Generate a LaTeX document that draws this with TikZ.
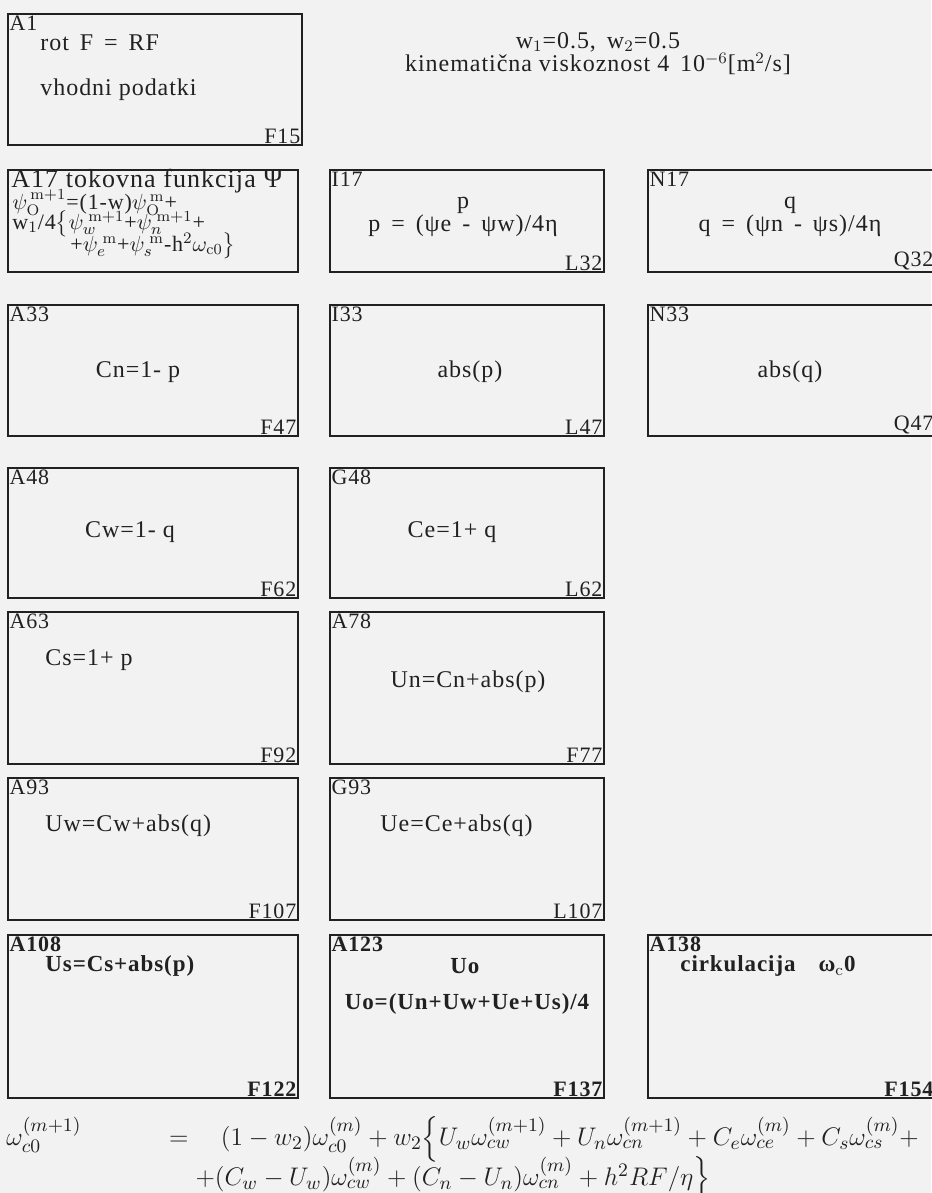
\documentclass[tikz,border=0pt]{standalone}
\usepackage{amsmath}
\usepackage{fontspec}
\newfontfamily\tabfont[LetterSpace=4]{Liberation Serif}
\usetikzlibrary{fit}

\definecolor{papir}{gray}{0.95}
\definecolor{crnilo}{gray}{0.13}

\begin{document}
\begin{tikzpicture}[x=0.5pt, y=-0.5pt, crnilo,
    blok/.style={draw, line width=1.2pt, inner sep=0pt, fit={#1}},
    oznaka/.style={font=\tabfont\fontsize{11}{13}\selectfont, inner sep=1.2pt},
    vsebina/.style={font=\tabfont\fontsize{12}{14}\selectfont, inner sep=0pt},
    krepko/.style={font=\tabfont\bfseries\fontsize{11.5}{14}\selectfont, inner sep=0pt},
    enacba/.style={font=\fontsize{13.2}{16}\selectfont, inner sep=0pt, scale=1.06, transform shape}]
  \fill[papir] (0,0) rectangle (931,1193);
  \useasboundingbox (0,0) rectangle (931,1193);

  \foreach \ime/\xa/\ya/\xb/\yb/\zg/\sp in {
      A1/8/14/302/145/A1/F15,
      I17/330/170/604/272/I17/L32,
      N17/648/170/935/272/N17/Q32,
      A33/8/305/298/436/A33/F47,
      I33/330/305/604/436/I33/L47,
      N33/648/305/935/436/N33/Q47,
      A48/8/468/298/598/A48/F62,
      G48/330/468/604/598/G48/L62,
      A63/8/612/298/764/A63/F92,
      A78/330/612/604/764/A78/F77,
      A93/8/778/298/920/A93/F107,
      G93/330/778/604/920/G93/L107,
      A108/8/935/298/1098/{\bfseries A108}/{\bfseries F122},
      A123/330/935/604/1098/{\bfseries A123}/{\bfseries F137},
      A138/648/935/935/1098/{\bfseries A138}/{\bfseries F154}}
  {
    \node[blok={(\xa,\ya) (\xb,\yb)}] (\ime) {};
    \node[oznaka, anchor=north west] (\ime zg) at (\ime.north west) {\zg};
    \node[oznaka, anchor=south east] (\ime sp) at (\ime.south east) {\sp};
  }
  \node[blok={(8,170) (298,272)}] (A17) {};

  \node[vsebina, anchor=west] (rot) at (40,43) {rot\, F\, =\, RF};
  \node[vsebina, anchor=west] (vhod) at (40,90) {vhodni podatki};
  \node[vsebina] (utez) at (598,42) {w$_1$=0.5,\, w$_2$=0.5};
  \node[vsebina] (visk) at (598,64) {kinematična viskoznost 4\, 10$^{-6}$[m$^2$/s]};

  \node[vsebina, anchor=west, font=\tabfont\fontsize{13}{15}\selectfont] (A17a) at (11,181) {A17 tokovna funkcija Ψ};
  \node[vsebina, anchor=west, font=\tabfont\fontsize{11}{13}\selectfont] (A17b) at (12,203) {$\psi_{\mathrm{O}}^{\,\mathrm{m+1}}$=(1-w)$\psi_{\mathrm{O}}^{\,\mathrm{m}}$+};
  \node[vsebina, anchor=west, font=\tabfont\fontsize{11}{13}\selectfont] (A17c) at (12,224) {w$_1$/4$\big\{\psi_{w}^{\;\mathrm{m+1}}$+$\psi_{n}^{\;\mathrm{m+1}}$+};
  \node[vsebina, anchor=west, font=\tabfont\fontsize{11}{13}\selectfont] (A17d) at (70,246) {+$\psi_{e}^{\;\mathrm{m}}$+$\psi_{s}^{\;\mathrm{m}}$-h$^2\omega_{\mathrm{c0}}\big\}$};

  \node[vsebina] (I17a) at (463,205) {p};
  \node[vsebina] (I17b) at (463,226) {p\, =\, (ψe\, -\, ψw)/4η};
  \node[vsebina] (N17a) at (790,205) {q};
  \node[vsebina] (N17b) at (790,226) {q\, =\, (ψn\, -\, ψs)/4η};

  \node[vsebina] (A33t) at (138,372) {Cn=1- p};
  \node[vsebina] (I33t) at (470,372) {abs(p)};
  \node[vsebina] (N33t) at (790,372) {abs(q)};
  \node[vsebina] (A48t) at (130,532) {Cw=1- q};
  \node[vsebina] (G48t) at (452,532) {Ce=1+ q};
  \node[vsebina, anchor=west] (A63t) at (45,660) {Cs=1+ p};
  \node[vsebina] (A78t) at (468,682) {Un=Cn+abs(p)};
  \node[vsebina, anchor=west] (A93t) at (45,826) {Uw=Cw+abs(q)};
  \node[vsebina, anchor=west] (G93t) at (380,826) {Ue=Ce+abs(q)};
  \node[krepko, anchor=west] (A108t) at (45,966) {Us=Cs+abs(p)};
  \node[krepko] (A123a) at (465,966) {Uo};
  \node[krepko] (A123b) at (467,1004) {Uo=(Un+Uw+Ue+Us)/4};
  \node[krepko, anchor=west] (A138t) at (680,966) {cirkulacija\quad ω$_{\mathrm{c}}$0};

  \node[enacba, anchor=west] (om1) at (6,1139) {$\omega_{c0}^{(m+1)}\hspace{38pt}=\hspace{12pt}(1-w_2)\omega_{c0}^{(m)}+w_2\Big\{U_w\omega_{cw}^{(m+1)}+U_n\omega_{cn}^{(m+1)}+C_e\omega_{ce}^{(m)}+C_s\omega_{cs}^{(m)}+$};
  \node[enacba] (om2) at (453,1179) {$+(C_w-U_w)\omega_{cw}^{(m)}+(C_n-U_n)\omega_{cn}^{(m)}+h^2RF/\eta\Big\}$};
\end{tikzpicture}
\end{document}
